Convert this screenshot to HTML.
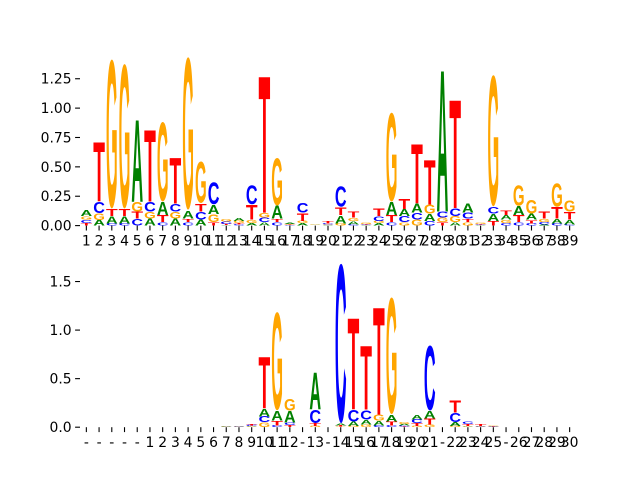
<!DOCTYPE html>
<html><head><meta charset="utf-8"><style>
html,body{margin:0;padding:0;background:#fff}
svg text.tk{font-family:"DejaVu Sans","Liberation Sans",sans-serif;font-size:13.9px;fill:#000}
</style></head><body>
<svg id="fig" width="640" height="480" viewBox="0 0 640 480" xmlns="http://www.w3.org/2000/svg">
<rect width="640" height="480" fill="#fff"/>
<g id="top"></g>
<g id="bot"></g>
</svg>
<script>
// ---- top logo data (bits per letter per position) ----
const topLabels = ["1","2","3","4","5","6","7","8","9","10","11","12","13","14","15","16","17","18","19","20","21","22","23","24","25","26","27","28","29","30","31","32","33","34","35","36","37","38","39"];
const topA = [.05,.048,.06,.06,.72,.06,.11,.06,.07,.05,.08,.005,.03,.02,.03,.11,.01,.02,.003,.005,.07,.03,.005,.02,.11,.06,.08,.06,1.24,.03,.08,.005,.06,.04,.08,.05,.01,.04,.04];
const topC = [.03,.10,.02,.02,.06,.085,.03,.07,.03,.07,.20,.02,.01,.17,.04,.03,.005,.09,.002,.01,.18,.01,.005,.04,.03,.05,.06,.04,.05,.07,.05,.005,.06,.02,.03,.02,.02,.02,.01];
const topG = [.03,.057,1.33,1.29,.085,.06,.71,.06,1.36,.37,.07,.02,.02,.03,.04,.42,.005,.02,.003,.005,.02,.03,.01,.02,.79,.03,.05,.08,.04,.05,.03,.01,1.17,.03,.18,.12,.03,.21,.10];
const topT = [.02,.52,.06,.06,.06,.63,.06,.40,.03,.07,.03,.01,.01,.13,1.20,.03,.005,.07,.002,.02,.07,.05,.005,.07,.06,.09,.52,.39,.03,.95,.03,.005,.04,.04,.06,.03,.06,.10,.07];
const topYTicks = [0,0.25,0.5,0.75,1.0,1.25];
const topYLabels = ["0.00","0.25","0.50","0.75","1.00","1.25"];
// ---- bottom logo data ----
const botLabels = ["-","-","-","-","-","1","2","3","4","5","6","7","8","9","10","11","12","-","13","-","14","15","16","17","18","19","20","21","-","22","23","24","25","-","26","27","28","29","30"];
const botA = [0,0,0,0,0,0,0,0,.002,.002,.002,.003,.004,.005,.08,.10,.12,0,.39,0,.02,.045,.05,.05,.07,.02,.05,.08,0,.04,.005,.004,.005,0,0,0,0,0,0];
const botC = [0,0,0,0,0,0,0,0,.002,.002,.002,.003,.003,.01,.06,.02,.03,0,.14,0,1.72,.13,.10,.02,.02,.01,.04,.70,0,.10,.03,.004,.004,0,0,0,0,0,0];
const botG = [0,0,0,0,0,0,0,0,.002,.002,.002,.004,.004,.005,.05,1.06,.13,0,.01,0,.005,.01,.03,.06,1.26,.02,.01,.03,0,.01,.005,.004,.008,0,0,0,0,0,0];
const botT = [0,0,0,0,0,0,0,0,.001,.001,.001,.002,.002,.01,.55,.05,.02,0,.03,0,.01,.97,.68,1.14,.04,.005,.03,.06,0,.13,.02,.02,.005,0,0,0,0,0,0];
const botYTicks = [0,0.5,1.0,1.5];
const botYLabels = ["0.0","0.5","1.0","1.5"];

const COLORS = {A:"#008000",C:"#0000ff",G:"#ffa500",T:"#ff0000"};
const NS = "http://www.w3.org/2000/svg";

function drawLogo(g, cfg){
  const {labels, A, C, G, T, yTicks, yLabels, left, right, top, bottom, ymax, name} = cfg;
  const n = labels.length;
  const xs = (i)=> left + (i + 0.5) * (right-left)/n;
  const ys = (v)=> bottom - v/ymax*(bottom-top);
  const colW = (right-left)/n;
  yTicks.forEach((v,k)=>{
    const y = ys(v);
    const l = document.createElementNS(NS,"line");
    l.setAttribute("x1",left-4.9); l.setAttribute("x2",left);
    l.setAttribute("y1",y); l.setAttribute("y2",y);
    l.setAttribute("stroke","#000"); l.setAttribute("stroke-width","1.1");
    
    
    g.appendChild(l);
    const t = document.createElementNS(NS,"text");
    t.setAttribute("class","tk"); t.setAttribute("x",left-8.4); t.setAttribute("y",y+5);
    t.setAttribute("text-anchor","end"); t.textContent = yLabels[k];
    
    
    g.appendChild(t);
  });
  labels.forEach((lab,i)=>{
    const x = xs(i);
    const l = document.createElementNS(NS,"line");
    l.setAttribute("x1",x); l.setAttribute("x2",x);
    l.setAttribute("y1",bottom); l.setAttribute("y2",bottom+4.9);
    l.setAttribute("stroke","#000"); l.setAttribute("stroke-width","1.1");
    
    
    g.appendChild(l);
    const t = document.createElementNS(NS,"text");
    t.setAttribute("class","tk"); t.setAttribute("x",x); t.setAttribute("y",bottom+20);
    t.setAttribute("text-anchor","middle"); t.textContent = lab;
    
    
    g.appendChild(t);
  });
  for(let i=0;i<n;i++){
    const items = [["A",A[i]],["C",C[i]],["G",G[i]],["T",T[i]]].filter(d=>d[1]>0).sort((a,b)=>a[1]-b[1]);
    let base = 0;
    items.forEach(([ch,h])=>{
      const y0 = ys(base), y1 = ys(base+h);
      base += h;
      const t = document.createElementNS(NS,"text");
      t.setAttribute("font-family","Liberation Sans, DejaVu Sans, sans-serif");
      t.setAttribute("font-weight","bold");
      t.setAttribute("font-size","100");
      t.setAttribute("fill",COLORS[ch]);
      t.setAttribute("x","0"); t.setAttribute("y","0");
      t.textContent = ch;
      
      
      g.appendChild(t);
      let bb;
      try { bb = t.getBBox(); } catch(e){ bb = null; }
      let gx=0, gw=70;
      if(bb && bb.width>0){ gx=bb.x; gw=bb.width; }
      let gy = -71.6, gh = 71.6;
      if(ch==="C"||ch==="G"){ gy=-73; gh=74.3; }
      const w = colW*0.92, hpx = y0-y1;
      const sx = w/gw, sy = hpx/gh;
      const tx = xs(i) - w/2 - gx*sx;
      const ty = y1 - gy*sy;
      t.setAttribute("transform",`translate(${tx},${ty}) scale(${sx},${sy})`);
    });
  }
}
drawLogo(document.getElementById("top"),{labels:topLabels,A:topA,C:topC,G:topG,T:topT,yTicks:topYTicks,yLabels:topYLabels,left:80,right:576,top:57.6,bottom:225.6,ymax:1.43,name:"top"});
drawLogo(document.getElementById("bot"),{labels:botLabels,A:botA,C:botC,G:botG,T:botT,yTicks:botYTicks,yLabels:botYLabels,left:80,right:576,top:259.2,bottom:427.2,ymax:1.73,name:"bottom"});
</script>
</body></html>
